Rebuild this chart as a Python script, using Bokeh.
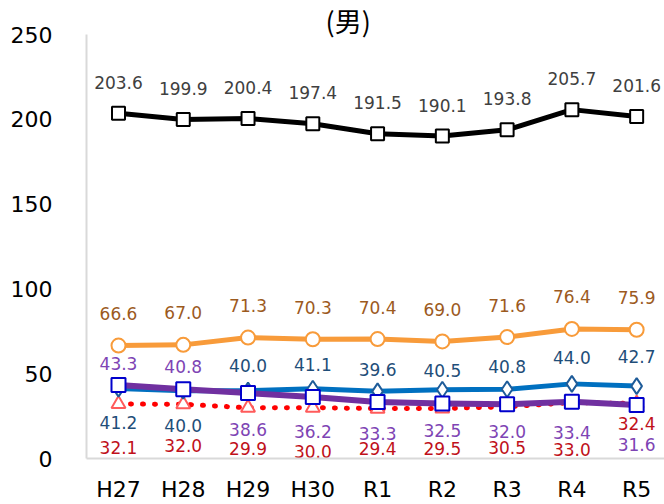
from bokeh.plotting import figure
from bokeh.models import Range1d, FixedTicker, ColumnDataSource
from bokeh.embed import file_html
from bokeh.resources import INLINE
from bokeh.core.properties import value

# ---- data ----
years = ["H27", "H28", "H29", "H30", "R1", "R2", "R3", "R4", "R5"]
s_black = [203.6, 199.9, 200.4, 197.4, 191.5, 190.1, 193.8, 205.7, 201.6]
s_orange = [66.6, 67.0, 71.3, 70.3, 70.4, 69.0, 71.6, 76.4, 75.9]
s_blue = [41.2, 40.0, 40.0, 41.1, 39.6, 40.5, 40.8, 44.0, 42.7]
s_purple = [43.3, 40.8, 38.6, 36.2, 33.3, 32.5, 32.0, 33.4, 31.6]
s_red = [32.1, 32.0, 29.9, 30.0, 29.4, 29.5, 30.5, 33.0, 32.4]
y_ticks = [0, 50, 100, 150, 200, 250]
title_text = "(男)"

# ---- label placement (screen px, positive = down) ----
off_black = [-31] * 9
off_orange = [-32] * 9
off_blue = [34, 35, -25, -24, -22, -19, -23, -26, -30]
off_purple = [-22, -23, 36, 34, 31, 27, 27, 31, 40]
off_red = [43, 41, 41, 44, 40, 40, 41, 47, 20]

xs = list(range(len(years)))
FONT = value("DejaVu Sans")

p = figure(width=664, height=504,
           x_range=Range1d(-0.494, 8.43), y_range=Range1d(0, 250),
           output_backend="svg", toolbar_location=None,
           min_border_left=86, min_border_top=34, min_border_right=0,
           min_border_bottom=45)
p.outline_line_color = None
p.grid.visible = False
p.background_fill_color = "white"
p.border_fill_color = "white"

p.title.text = title_text
p.title.align = "left"
p.title.vertical_align = "bottom"
p.title.offset = 239
p.title.standoff = -11
p.title.text_font = "Noto Sans CJK JP"
p.title.text_font_size = "27px"
p.title.text_font_style = "normal"
p.title.text_color = "#000000"

p.xaxis.ticker = FixedTicker(ticks=xs)
p.xaxis.major_label_overrides = {i: y for i, y in enumerate(years)}
p.yaxis.ticker = FixedTicker(ticks=y_ticks)
for ax in (p.xaxis, p.yaxis):
    ax.axis_line_color = "#D9D9D9"
    ax.axis_line_width = 2
    ax.major_tick_line_color = None
    ax.minor_tick_line_color = None
    ax.major_label_text_font = "DejaVu Sans"
    ax.major_label_text_font_size = "22px"
    ax.major_label_text_color = "#000000"
p.xaxis.major_label_standoff = 12
p.yaxis.major_label_standoff = 28


def series(vals, offs, line_color, lw, marker, msize, mline, dash="solid", cap="butt"):
    src = ColumnDataSource(dict(x=xs, y=vals, t=[f"{v:.1f}" for v in vals], off=offs))
    p.line("x", "y", source=src, line_color=line_color, line_width=lw,
           line_dash=dash, line_cap=cap, line_join="round")
    p.scatter("x", "y", source=src, marker=marker, size=msize, line_color=mline,
              line_width=2, fill_color="white")
    return src


srcs = []
srcs.append((series(s_red, off_red, "#FF0000", 5, "triangle", 14, "#FF5B5B", dash="1 11", cap="round"), "#C0101A"))
srcs.append((series(s_blue, off_blue, "#0070C0", 5, "diamond", 16, "#1F5C99"), "#1F4E79"))
srcs.append((series(s_purple, off_purple, "#7030A0", 6, "square", 14, "#0000CC"), "#7E44B4"))
srcs.append((series(s_orange, off_orange, "#F89B3A", 5, "circle", 14, "#F89B3A"), "#9C5A1E"))
srcs.append((series(s_black, off_black, "#000000", 5, "square", 13, "#000000"), "#404040"))

for src, col in srcs:
    p.text("x", "y", text="t", y_offset="off", source=src, text_align="center",
           text_baseline="middle", text_font=FONT, text_font_size="17px",
           text_color=col)

open("out.html", "w").write(file_html(p, INLINE))
